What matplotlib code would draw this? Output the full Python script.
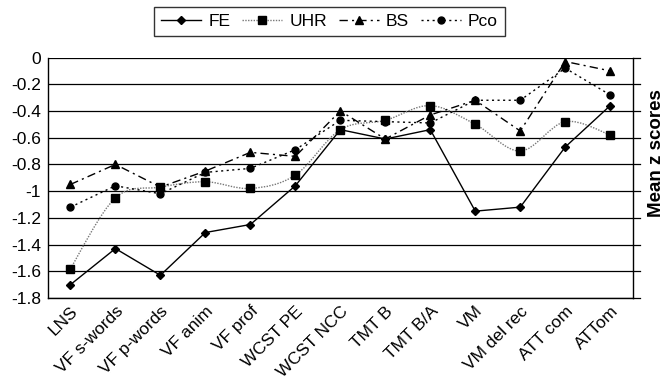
import matplotlib
matplotlib.use("Agg")
import matplotlib.pyplot as plt
from matplotlib.path import Path
from matplotlib.patches import PathPatch
from matplotlib.lines import Line2D
import numpy as np

plt.rcParams['font.family'] = ['Liberation Sans', 'DejaVu Sans']

categories = ["LNS", "VF s-words", "VF p-words", "VF anim", "VF prof", "WCST PE",
              "WCST NCC", "TMT B", "TMT B/A", "VM", "VM del rec", "ATT com", "ATTom"]
fe = [-1.70, -1.43, -1.63, -1.31, -1.25, -0.96, -0.54, -0.61, -0.54, -1.15, -1.12, -0.67, -0.36]
uhr = [-1.58, -1.05, -0.97, -0.93, -0.98, -0.88, -0.54, -0.47, -0.36, -0.50, -0.70, -0.48, -0.58]
bs = [-0.95, -0.80, -0.97, -0.85, -0.71, -0.74, -0.40, -0.61, -0.43, -0.32, -0.55, -0.03, -0.10]
pco = [-1.12, -0.96, -1.02, -0.86, -0.83, -0.69, -0.47, -0.48, -0.49, -0.32, -0.32, -0.08, -0.28]
yticks = [0, -0.2, -0.4, -0.6, -0.8, -1, -1.2, -1.4, -1.6, -1.8]
ytick_labels = ["0", "-0.2", "-0.4", "-0.6", "-0.8", "-1", "-1.2", "-1.4", "-1.6", "-1.8"]

fig = plt.figure(figsize=(6.66, 3.87), dpi=100)
ax = fig.add_axes([0.072, 0.230, 0.878, 0.6214])

x = np.arange(len(categories))

def smooth_path(xs, ys):
    pts = np.column_stack([xs, ys]).astype(float)
    n = len(pts)
    verts = [pts[0]]
    codes = [Path.MOVETO]
    for i in range(n - 1):
        p0 = pts[i - 1] if i > 0 else pts[i]
        p1 = pts[i]
        p2 = pts[i + 1]
        p3 = pts[i + 2] if i + 2 < n else pts[i + 1]
        c1 = p1 + (p2 - p0) / 6.0
        c2 = p2 - (p3 - p1) / 6.0
        verts += [c1, c2, p2]
        codes += [Path.CURVE4] * 3
    return Path(verts, codes)

# grid lines
for yv in yticks:
    ax.axhline(yv, color='black', lw=0.9, zorder=1)

# FE
ax.plot(x, fe, color='black', lw=1.0, marker='D', ms=4.5, zorder=5)
# UHR (smoothed)
patch = PathPatch(smooth_path(x, uhr), facecolor='none', edgecolor='#777777',
                  lw=1.0, linestyle=(0, (1, 1)), zorder=4)
ax.add_patch(patch)
ax.plot(x, uhr, linestyle='none', color='black', marker='s', ms=5.5, zorder=5)
# BS
ax.plot(x, bs, color='black', lw=1.0, linestyle=(0, (6, 3, 1.5, 3)), marker='^', ms=6, zorder=5)
# Pco
ax.plot(x, pco, color='black', lw=1.0, linestyle=(0, (1.5, 2.5)), marker='o', ms=5, zorder=5)

ax.set_xlim(-0.5, len(categories) - 0.5)
ax.set_ylim(-1.8, 0)
ax.set_yticks(yticks)
ax.set_yticklabels(ytick_labels, fontsize=12.5)
ax.set_xticks(x)
ax.set_xticklabels(categories, rotation=45, ha='right', rotation_mode='anchor', fontsize=12.5)
ax.tick_params(axis='x', length=0, pad=4)
ax.tick_params(axis='y', length=0, pad=5)
ax.spines['top'].set_visible(False)
ax.spines['left'].set_linewidth(1.0)
ax.spines['bottom'].set_linewidth(1.0)
ax.spines['right'].set_linewidth(1.0)

# right-side tick marks
for yv in yticks:
    ax.plot([1.0, 1.012], [yv, yv], transform=ax.get_yaxis_transform(), color='black',
            lw=0.9, clip_on=False)

fig.text(0.985, 0.604, "Mean z scores", rotation=90, fontsize=13.5, fontweight='bold',
         ha='center', va='center')

handles = [
    Line2D([], [], color='black', lw=1.0, marker='D', ms=4.5),
    Line2D([], [], color='#777777', lw=1.0, linestyle=(0, (1, 1)), marker='s', ms=5.5,
           markerfacecolor='black', markeredgecolor='black'),
    Line2D([], [], color='black', lw=1.0, linestyle=(0, (6, 3, 1.5, 3)), marker='^', ms=6),
    Line2D([], [], color='black', lw=1.0, linestyle=(0, (1.5, 2.5)), marker='o', ms=5),
]
leg = fig.legend(handles, ["FE", "UHR", "BS", "Pco"], loc='center', bbox_to_anchor=(0.495, 0.944),
                 ncol=4, frameon=True, fancybox=False, edgecolor='black', fontsize=12.5,
                 handlelength=2.3, handletextpad=0.4, columnspacing=0.7, borderpad=0.4)
leg.get_frame().set_linewidth(1.0)

fig.savefig("out.png", dpi=100)
